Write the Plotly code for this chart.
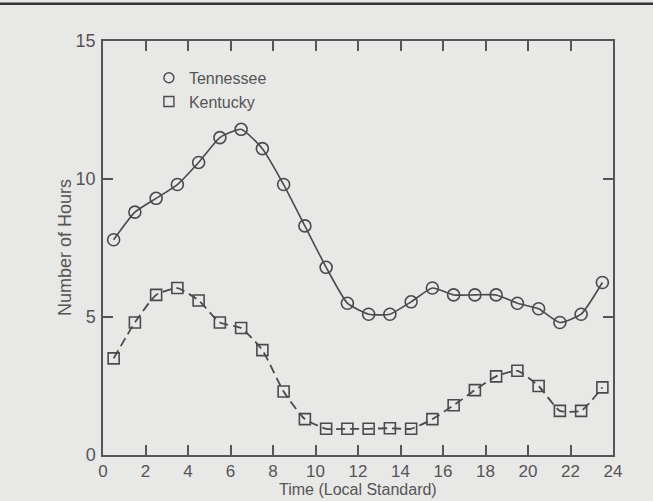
import plotly.graph_objects as go

hours = [h + 0.5 for h in range(24)]
tennessee = [7.8, 8.8, 9.3, 9.8, 10.6, 11.5, 11.8, 11.1, 9.8, 8.3, 6.8, 5.5,
             5.1, 5.1, 5.55, 6.05, 5.8, 5.8, 5.8, 5.5, 5.3, 4.8, 5.1, 6.25]
kentucky = [3.5, 4.8, 5.8, 6.05, 5.6, 4.8, 4.6, 3.8, 2.3, 1.3, 0.95, 0.95,
            0.95, 0.97, 0.95, 1.3, 1.8, 2.35, 2.85, 3.05, 2.5, 1.6, 1.6, 2.45]
series_names = ["Tennessee", "Kentucky"]
x_ticks = list(range(0, 25, 2))
y_ticks = [0, 5, 10, 15]
x_title = "Time (Local Standard)"
y_title = "Number of Hours"

ink = "#4a4a4a"
txt = "#555555"
bg = "#e8e8e7"
font_family = "Liberation Sans, Arial"

fig = go.Figure()
fig.add_trace(go.Scatter(
    x=hours, y=tennessee, name=series_names[0], mode="lines+markers", showlegend=False,
    line=dict(color=ink, width=1.6, shape="spline", smoothing=0.5),
    marker=dict(symbol="circle-open", size=12, color=ink, line=dict(width=1.6)),
))
fig.add_trace(go.Scatter(
    x=hours, y=kentucky, name=series_names[1], mode="lines+markers", showlegend=False,
    line=dict(color=ink, width=1.8, dash="9px,5px", shape="spline", smoothing=0.5),
    marker=dict(symbol="square-open", size=11, color=ink, line=dict(width=1.6)),
))
# legend entries: markers only, as in the original key
for nm, sym in zip(series_names, ["circle-open", "square-open"]):
    fig.add_trace(go.Scatter(
        x=[None], y=[None], name=nm, mode="markers",
        marker=dict(symbol=sym, size=10, color=ink, line=dict(width=1.4)),
    ))

axis_common = dict(
    showline=True, linecolor="#555", linewidth=1.5, mirror="ticks",
    ticks="inside", ticklen=10, tickwidth=1.5, tickcolor="#555",
    showgrid=False, zeroline=False, automargin=False,
)

fig.update_xaxes(range=[0, 24], tickvals=x_ticks, ticklabelstandoff=0,
                 tickfont=dict(family=font_family, size=17, color=txt), **axis_common)
fig.update_yaxes(range=[0, 15], tickvals=y_ticks, ticklabelstandoff=2,
                 tickfont=dict(family=font_family, size=18, color=txt), **axis_common)

fig.add_annotation(text=x_title, xref="paper", yref="paper", x=0.5, y=0, yshift=-45,
                   xanchor="center", yanchor="bottom", showarrow=False,
                   font=dict(family=font_family, size=16, color=txt))
fig.add_annotation(text=y_title, xref="paper", yref="paper", x=0, xshift=-38, y=0.5,
                   xanchor="center", yanchor="middle", textangle=-90, showarrow=False,
                   font=dict(family=font_family, size=18, color=txt))

fig.add_shape(type="line", xref="paper", yref="paper", x0=-0.25, x1=1.15,
              y0=1.09, y1=1.09, line=dict(color="#333", width=2.5))

fig.update_layout(
    width=653, height=501,
    margin=dict(l=103, r=40, t=41, b=46),
    paper_bgcolor=bg, plot_bgcolor=bg,
    showlegend=True,
    legend=dict(x=0.09, y=0.952, xanchor="left", yanchor="top",
                bgcolor="rgba(0,0,0,0)", tracegroupgap=0, itemwidth=30,
                font=dict(family=font_family, size=16, color=txt)),
)

fig.write_html("out.html")
